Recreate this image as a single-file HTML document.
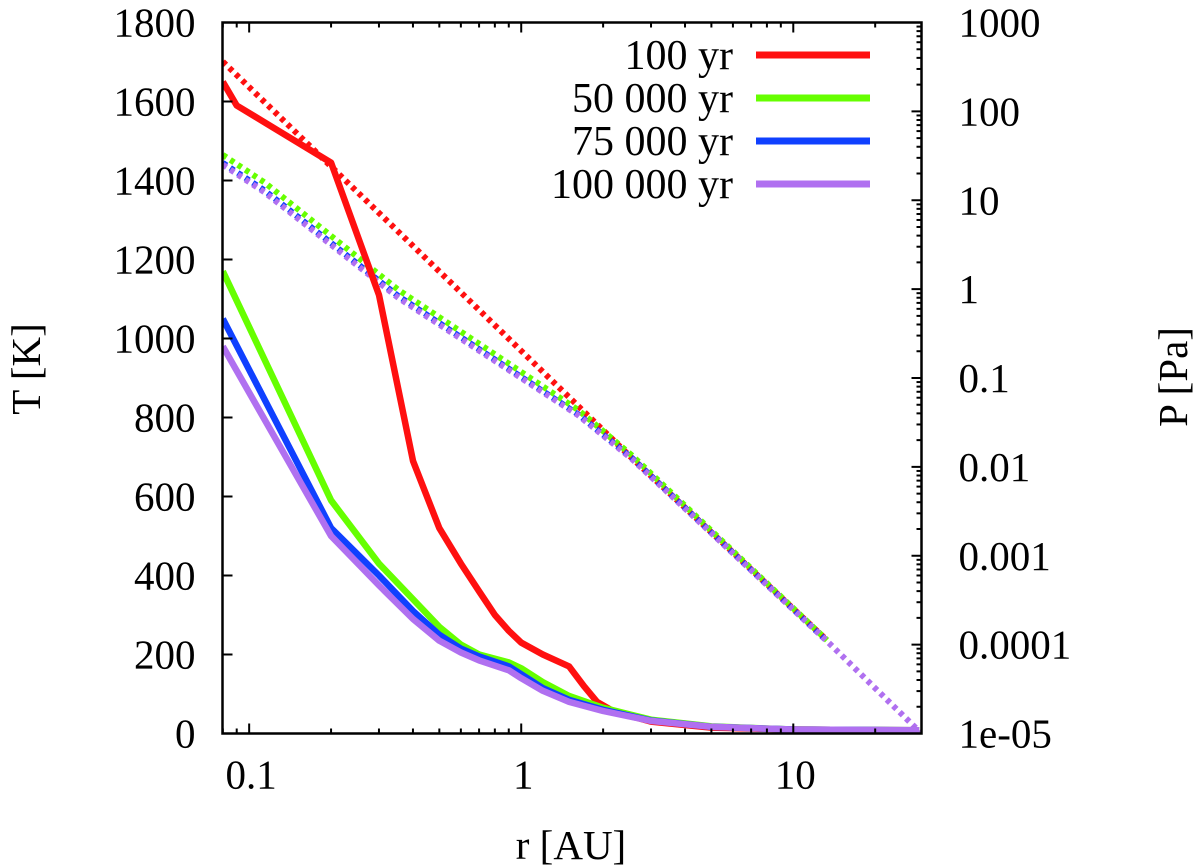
<!DOCTYPE html>
<html><head><meta charset="utf-8"><style>
html,body{margin:0;padding:0;background:#fff;}
svg{display:block;font-family:"Liberation Serif",serif;}
</style></head><body>
<svg id="chart" width="1200" height="866" viewBox="0 0 1200 866" xmlns="http://www.w3.org/2000/svg" font-family="Liberation Serif, serif">
<g id="marks"></g>
<g id="axes"></g>
<text x="0" y="0" transform="translate(40,369) rotate(-90)" text-anchor="middle" font-size="41">T [K]</text>
<text x="0" y="0" transform="translate(1187,377) rotate(-90)" text-anchor="middle" font-size="41">P [Pa]</text>
<text x="571" y="859" text-anchor="middle" font-size="41">r [AU]</text>
</svg>
<script>
const labels = ["100 yr","50 000 yr","75 000 yr","100 000 yr"];
const colors = ["#ff1010","#66ff00","#1040ff","#b070f0"];
const tR = [0.08,0.09,0.2,0.3,0.4,0.5,0.6,0.7,0.8,0.9,1.0,1.2,1.5,1.7,1.9,2.2,3,5,10,29];
const tRed = [1650,1590,1445,1110,690,520,430,360,300,260,230,200,170,120,80,55,30,15,10,8];
const tR2 = [0.08,0.2,0.3,0.4,0.5,0.6,0.7,0.9,1,1.2,1.5,2,3,5,10,29];
const tGreen = [1170,590,430,340,270,225,200,180,165,130,95,65,35,18,10,8];
const tBlue = [1050,520,400,310,250,215,195,170,150,115,85,60,33,17,10,8];
const tPurple = [980,500,375,290,235,205,185,160,140,108,80,57,32,17,10,8];
const pR = [0.08,2.55,13.3];
const pRed = [2.56,-1.9,-3.95];
const pR2 = [0.08,0.114,0.354,1.62,2.55,13.3];
const pGreen = [1.51,1.2,-0.01,-1.36,-1.87,-3.95];
const pBlue = [1.42,1.11,-0.08,-1.41,-1.9,-3.96];
const pR3 = [0.08,0.114,0.354,1.62,2.55,13.3,29.6];
const pPurple = [1.40,1.09,-0.1,-1.42,-1.91,-3.96,-5.0];
const tTicks = [0,200,400,600,800,1000,1200,1400,1600,1800];
const pTicks = ["1e-05","0.0001","0.001","0.01","0.1","1","10","100","1000"];
const xTicks = [0.1,1,10];
const xTickLabels = ["0.1","1","10"];

const L=222.5,R=921.5,T=22.5,B=733.5;
const xMin=Math.log10(0.0798), xMax=Math.log10(29.6);
const X=v=>L+(Math.log10(v)-xMin)/(xMax-xMin)*(R-L);
const YT=v=>B-v/1800*(B-T);
const YP=lg=>B-(lg+5)/8*(B-T);
const NS="http://www.w3.org/2000/svg";
const marks=document.getElementById('marks'), axes=document.getElementById('axes');
function mk(tag,attrs,parent){const e=document.createElementNS(NS,tag);for(const k in attrs)e.setAttribute(k,attrs[k]);parent.appendChild(e);return e;}
const clip=mk('clipPath',{id:'cp'},marks);mk('rect',{x:L,y:T,width:R-L,height:B-T},clip);
const g=mk('g',{'clip-path':'url(#cp)'},marks);
function line(xs,ys,yf,color,dotted,name){
  const d=xs.map((x,i)=>(i?'L':'M')+X(x).toFixed(1)+','+yf(ys[i]).toFixed(1)).join(' ');
  const p=mk('path',{d:d,fill:'none',stroke:color,'stroke-width':dotted?6:6.5,'stroke-linejoin':'round','stroke-dasharray':dotted?'4.5 4.5':'none'},g);
  
  
}
line(pR,pRed,YP,colors[0],true,'pressure-line-100yr');
line(pR2,pGreen,YP,colors[1],true,'pressure-line-50000yr');
line(pR2,pBlue,YP,colors[2],true,'pressure-line-75000yr');
line(pR3,pPurple,YP,colors[3],true,'pressure-line-100000yr');
line(tR,tRed,YT,colors[0],false,'temperature-line-100yr');
line(tR2,tGreen,YT,colors[1],false,'temperature-line-50000yr');
line(tR2,tBlue,YT,colors[2],false,'temperature-line-75000yr');
line(tR2,tPurple,YT,colors[3],false,'temperature-line-100000yr');
mk('rect',{x:L,y:T,width:R-L,height:B-T,fill:'none',stroke:'#000','stroke-width':2.5},axes);
tTicks.forEach(v=>{const y=YT(v);
  mk('line',{x1:L,y1:y,x2:L+10,y2:y,stroke:'#000','stroke-width':2},axes);
  const t=mk('text',{x:L-27,y:y+14,'text-anchor':'end','font-size':41},axes);t.textContent=v;
  
  
});
pTicks.forEach((s,i)=>{const lg=i-5,y=YP(lg);
  mk('line',{x1:R,y1:y,x2:R-10,y2:y,stroke:'#000','stroke-width':2},axes);
  if(i<8)for(let m=2;m<10;m++){const yy=YP(lg+Math.log10(m));mk('line',{x1:R,y1:yy,x2:R-5,y2:yy,stroke:'#000','stroke-width':2},axes);}
  const t=mk('text',{x:R+37,y:y+14,'text-anchor':'start','font-size':41},axes);t.textContent=s;
  
  
});
for(let d=-2;d<=1;d++)for(let m=1;m<10;m++){const v=m*Math.pow(10,d);if(v<0.0798||v>29.6)continue;const x=X(v),len=m===1?10:5;
  mk('line',{x1:x,y1:B,x2:x,y2:B-len,stroke:'#000','stroke-width':2},axes);
  mk('line',{x1:x,y1:T,x2:x,y2:T+len,stroke:'#000','stroke-width':2},axes);}
xTicks.forEach((v,i)=>{const t=mk('text',{x:X(v)+2,y:B+55,'text-anchor':'middle','font-size':41},axes);t.textContent=xTickLabels[i];
  
  
});
labels.forEach((s,i)=>{const y=55+i*43;
  const t=mk('text',{x:733,y:y+14,'text-anchor':'end','font-size':42},axes);t.textContent=s;
  
  
  const l=mk('line',{x1:756,y1:y,x2:870,y2:y,stroke:colors[i],'stroke-width':7},axes);
  
  
});
</script>
</body></html>
